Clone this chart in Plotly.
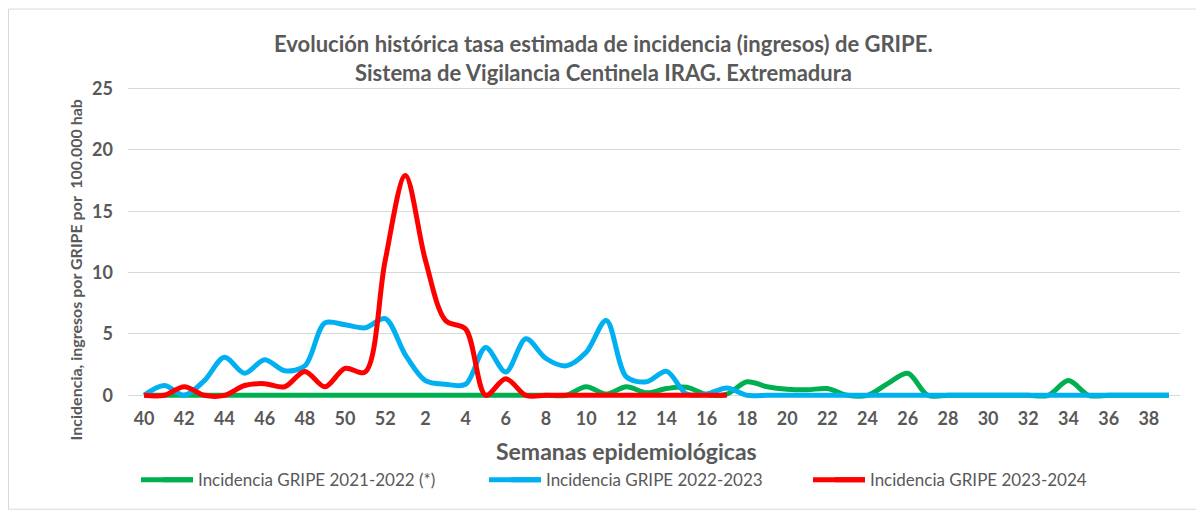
import plotly.graph_objects as go

weeks = [str(w) for w in list(range(40, 53)) + list(range(1, 40))]
tick_labels = [str(w) for w in list(range(40, 53, 2)) + list(range(2, 40, 2))]

gripe_2021_2022 = [0]*13 + [0, 0, 0, 0, 0, 0, 0, 0, 0, 0.7, 0.1, 0.7, 0.2, 0.55, 0.65, 0.05, 0.1,
                            1.1, 0.7, 0.5, 0.45, 0.55, 0, 0, 0.95, 1.8, 0, 0, 0, 0, 0, 0, 0, 1.2,
                            0, 0, 0, 0, 0]
gripe_2022_2023 = [0, 0.8, 0, 1.2, 3.1, 1.8, 2.9, 2.0, 2.4, 5.9, 5.75, 5.5, 6.25,
                   3.3, 1.2, 0.9, 0.9, 3.9, 1.9, 4.6, 3.0, 2.4, 3.5, 6.1, 1.5, 1.1, 1.95, 0.1,
                   0.1, 0.6, 0, 0, 0, 0, 0, 0, 0, 0, 0, 0, 0, 0, 0, 0, 0, 0, 0, 0, 0, 0, 0, 0]
gripe_2023_2024 = [0, 0, 0.7, 0, 0, 0.8, 0.95, 0.7, 1.95, 0.7, 2.2, 1.9, 11.0,
                   17.9, 11.0, 6.1, 5.4, 0, 1.35, 0, 0, 0, 0, 0, 0, 0, 0, 0, 0, 0]

names = ["Incidencia GRIPE 2021-2022 (*)", "Incidencia GRIPE 2022-2023", "Incidencia GRIPE 2023-2024"]
colors = ["#00B050", "#00B0F0", "#FF0000"]
series = [gripe_2021_2022, gripe_2022_2023, gripe_2023_2024]

FONT = "Lato"
GRAY = "#595959"

# page body adds an 8px offset; work in reference pixels and shift
OFF = 8
W, H = 1204 - OFF, 514 - OFF
L, R, T, B = 128 - OFF, 1180 - OFF, 85.5 - OFF, 398.7 - OFF
pw, ph = R - L, B - T

def px(x):
    return (x - OFF - L) / pw

def py(y):
    return (B - (y - OFF)) / ph

fig = go.Figure()
legend_ids = ["legend", "legend2", "legend3"]
for name, col, vals, lg in zip(names, colors, series, legend_ids):
    fig.add_trace(go.Scatter(
        x=weeks[:len(vals)], y=vals, name=name, mode="lines",
        line=dict(color=col, width=5, shape="spline", smoothing=0.9),
        legend=lg,
    ))

text_starts = [198, 546, 870]
leg_common = dict(orientation="h", yanchor="middle", xanchor="left",
                  font=dict(family=FONT, size=17, color=GRAY),
                  bgcolor="rgba(0,0,0,0)", borderwidth=0)
layout_legends = {}
shapes = [
    dict(type="rect", xref="paper", yref="paper", x0=px(8.5), x1=px(1203), y0=py(8.5), y1=py(509),
         line=dict(color="#D9D9D9", width=1), fillcolor="rgba(0,0,0,0)", layer="below"),
]
for lg, ts, col in zip(legend_ids, text_starts, colors):
    layout_legends[lg] = dict(leg_common, x=px(ts - 40), y=py(480))
    # extend the legend key line to the longer length used in the reference
    shapes.append(dict(type="line", xref="paper", yref="paper",
                       x0=px(ts - 57), x1=px(ts - 5), y0=py(479.5), y1=py(479.5),
                       line=dict(color=col, width=5)))

fig.update_layout(
    width=W, height=H,
    margin=dict(l=L, r=W - R, t=T, b=H - B),
    plot_bgcolor="white", paper_bgcolor="white",
    showlegend=True,
    **layout_legends,
    xaxis=dict(
        type="category", categoryorder="array", categoryarray=weeks,
        range=[-0.8, 51.55], tickmode="array", tickvals=tick_labels, ticktext=tick_labels,
        showgrid=False, showline=False, ticks="", zeroline=False, ticklabelstandoff=7,
        tickfont=dict(family=FONT, size=18, color=GRAY, weight="bold"),
    ),
    yaxis=dict(
        range=[-0.3, 25.2], tickvals=[0, 5, 10, 15, 20, 25],
        showgrid=True, gridcolor="#D9D9D9", gridwidth=1,
        zeroline=True, zerolinecolor="#D9D9D9", zerolinewidth=1,
        showline=False, ticks="", ticklabelstandoff=14,
        tickfont=dict(family=FONT, size=18, color=GRAY, weight="bold"),
    ),
    annotations=[
        dict(text="<b>Evolución histórica tasa estimada de incidencia (ingresos) de GRIPE.</b>",
             xref="paper", yref="paper", x=px(603), y=py(43), showarrow=False,
             xanchor="center", yanchor="middle", font=dict(family=FONT, size=22, color=GRAY)),
        dict(text="<b>Sistema de Vigilancia Centinela IRAG. Extremadura</b>",
             xref="paper", yref="paper", x=px(603), y=py(72), showarrow=False,
             xanchor="center", yanchor="middle", font=dict(family=FONT, size=22, color=GRAY)),
        dict(text="<b>Semanas epidemiológicas</b>",
             xref="paper", yref="paper", x=px(626), y=py(451), showarrow=False,
             xanchor="center", yanchor="middle", font=dict(family=FONT, size=23, color=GRAY)),
        dict(text="<b>Incidencia, ingresos por GRIPE por  100.000 hab</b>",
             xref="paper", yref="paper", x=px(75), y=py(270), showarrow=False, textangle=-90,
             xanchor="center", yanchor="middle", font=dict(family=FONT, size=16, color=GRAY)),
    ],
    shapes=shapes,
)

fig.write_html("out.html")
